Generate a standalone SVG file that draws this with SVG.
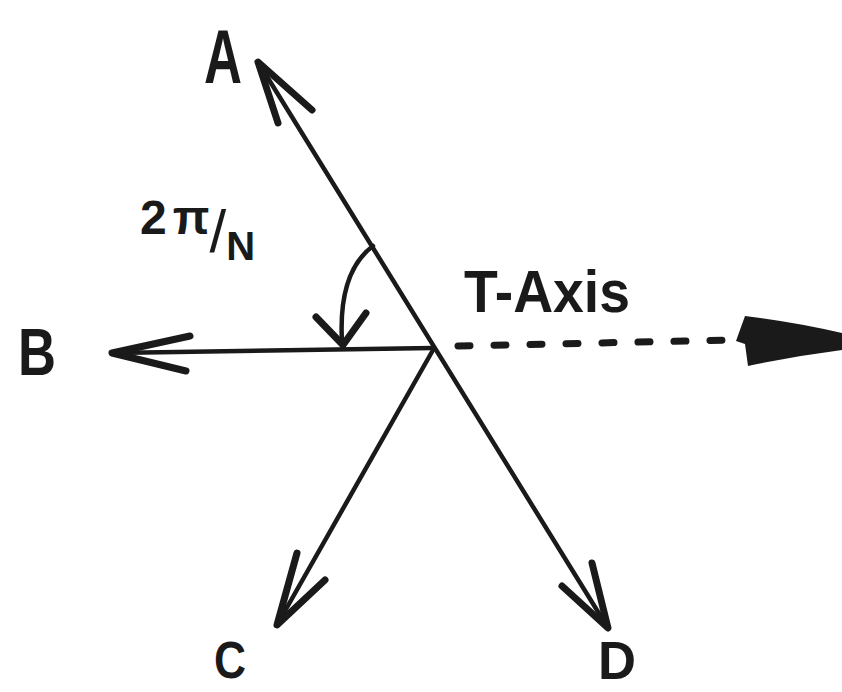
<svg xmlns="http://www.w3.org/2000/svg" width="842" height="692" viewBox="0 0 842 692">
<style>
.ln{stroke:#1a1a1a;stroke-width:4.5;fill:none;stroke-linecap:round;stroke-linejoin:round}
.hd{stroke:#1a1a1a;stroke-width:7;fill:none;stroke-linecap:round;stroke-linejoin:round}
.dash{stroke:#1a1a1a;stroke-width:7;fill:none;stroke-linecap:round;stroke-dasharray:12 24}
.lbl{font-family:"Liberation Sans",Arial,sans-serif;fill:#1a1a1a;font-weight:bold}
</style>
<rect width="842" height="692" fill="#ffffff"/>
<g id="connectors">
  <line class="ln" x1="258" y1="62" x2="608" y2="628"/>
  <line class="ln" x1="433" y1="348" x2="112" y2="353"/>
  <line class="ln" x1="433" y1="350" x2="277" y2="625"/>
  <line class="dash" x1="458" y1="346" x2="735" y2="340"/>
  <path d="M736 341 L745 316 Q795 322 842 333 L842 350 Q795 356 748 366 L745 344 Z" fill="#1a1a1a"/>
  <polyline class="hd" points="278,123 258,62 312,110"/>
  <polyline class="hd" points="190,336 112,353 186,371"/>
  <polyline class="hd" points="297,553 277,625 325,580"/>
  <polyline class="hd" points="562,586 608,628 592,563"/>
  <path class="ln" d="M373 246 Q338 272 342 342"/>
  <polyline class="hd" points="316,317 343,345 366,313"/>
</g>
<g id="A"><text class="lbl" x="204" y="83" font-size="76" textLength="38" lengthAdjust="spacingAndGlyphs">A</text></g>
<g id="B"><text class="lbl" x="18" y="375" font-size="66" textLength="38" lengthAdjust="spacingAndGlyphs">B</text></g>
<g id="C"><text class="lbl" x="214" y="678" font-size="52" textLength="32" lengthAdjust="spacingAndGlyphs">C</text></g>
<g id="D"><text class="lbl" x="598" y="679" font-size="54" textLength="38" lengthAdjust="spacingAndGlyphs">D</text></g>
<g id="angle"><text class="lbl" x="140" y="234" font-size="48">2<tspan dx="6">π</tspan><tspan font-weight="normal" font-size="60" dy="18">/</tspan><tspan font-size="40" dy="8">N</tspan></text></g>
<g id="taxis"><text class="lbl" x="464" y="312" font-size="60" textLength="166" lengthAdjust="spacingAndGlyphs">T-Axis</text></g>
</svg>
